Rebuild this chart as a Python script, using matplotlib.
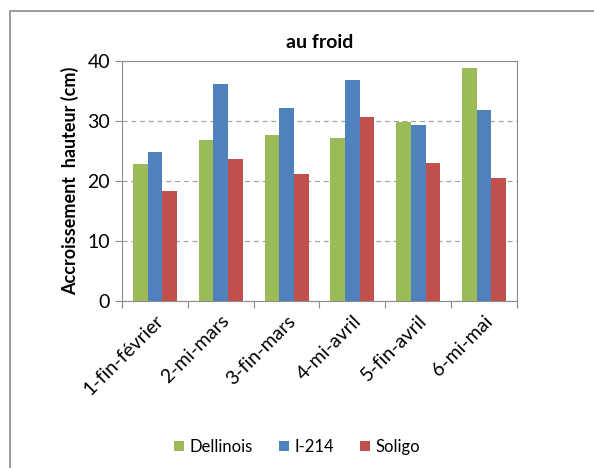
import numpy as np
import matplotlib.pyplot as plt
from matplotlib.patches import Rectangle

# donnees
periodes = ["1-fin-février", "2-mi-mars", "3-fin-mars", "4-mi-avril", "5-fin-avril", "6-mi-mai"]
dellinois = [22.8, 26.8, 27.6, 27.2, 29.9, 38.8]
i214 = [24.8, 36.2, 32.2, 36.9, 29.3, 31.8]
soligo = [18.3, 23.7, 21.1, 30.7, 23.0, 20.5]

plt.rcParams['font.family'] = ['Lato', 'DejaVu Sans']

fig = plt.figure(figsize=(5.94, 4.68), dpi=100)
ax = fig.add_axes([0.2054, 0.3568, 0.6649, 0.5129])

# cadre exterieur (gauche et haut visibles)
fig.patches.append(Rectangle((10/594, -0.1), 1.2, 1 - 11/468 + 0.1,
                             transform=fig.transFigure, fill=False,
                             edgecolor='#8c8c8c', linewidth=1.2))

x = np.arange(len(periodes))
w = 0.223
ax.bar(x - w, dellinois, w, color='#9bbb59', label='Dellinois', zorder=3)
ax.bar(x, i214, w, color='#4f81bd', label='I-214', zorder=3)
ax.bar(x + w, soligo, w, color='#c0504d', label='Soligo', zorder=3)

ax.set_xlim(-0.5, len(periodes) - 0.5)
ax.set_ylim(0, 40)
ax.set_yticks([0, 10, 20, 30, 40])
ax.yaxis.grid(True, linestyle=(0, (4, 3)), color='#a6a6a6', linewidth=0.9, zorder=0)

# ticks entre les categories
ax.set_xticks(np.arange(-0.5, len(periodes), 1))
ax.set_xticklabels([])
ax.set_xticks(x, minor=True)
ax.set_xticklabels(periodes, minor=True, rotation=45, ha='right',
                   rotation_mode='anchor', fontsize=14)
ax.tick_params(axis='x', which='minor', length=0, pad=8)
ax.tick_params(axis='x', which='major', length=5, color='#8c8c8c')
ax.tick_params(axis='y', length=5, color='#8c8c8c', labelsize=14)

for s in ax.spines.values():
    s.set_color('#8c8c8c')

ax.set_title("au froid", fontsize=14, fontweight='bold', pad=9)
ax.set_ylabel("Accroissement  hauteur (cm)", fontsize=13, fontweight='bold', labelpad=6)

fig.legend(loc='center', bbox_to_anchor=(0.5, 1 - 447/468), ncol=3, frameon=False,
           fontsize=12, handlelength=0.6, handleheight=0.6, handletextpad=0.3,
           columnspacing=1.6)

fig.savefig("out.png", dpi=100)
